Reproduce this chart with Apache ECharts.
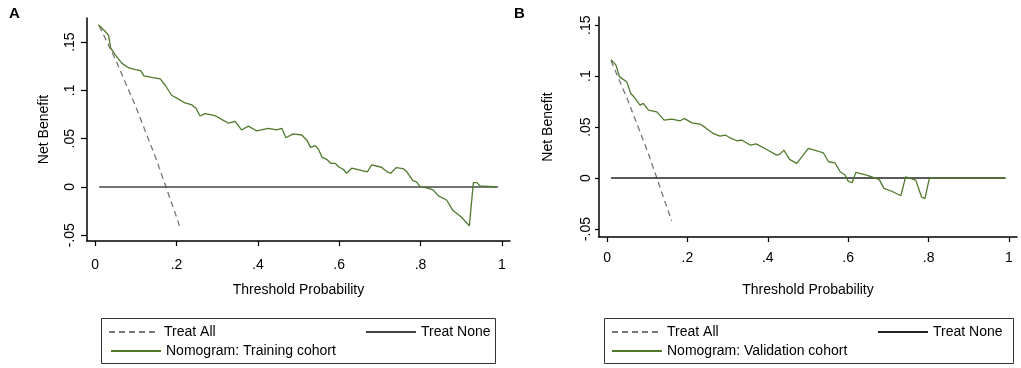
<!DOCTYPE html>
<html>
<head>
<meta charset="utf-8">
<script src="https://cdn.jsdelivr.net/npm/echarts@6/dist/echarts.min.js"></script>
<style>
  html, body { margin: 0; padding: 0; background: #fff; }
  #chart { width: 1021px; height: 368px; }
</style>
</head>
<body>
<div id="chart"></div>
<script>
// tick values and labels (Stata style)
var xTicks = [0, 0.2, 0.4, 0.6, 0.8, 1];
var xTickLabels = ['0', '.2', '.4', '.6', '.8', '1'];
var yTicks = [-0.05, 0, 0.05, 0.1, 0.15];
var yTickLabels = ['-.05', '0', '.05', '.1', '.15'];

// panel A - training cohort
var allAX = [0.01, 0.05, 0.1, 0.15, 0.2, 0.21];
var allAY = [0.167, 0.132, 0.083, 0.029, -0.031, -0.044];
var noneAX = [0.01, 0.99];
var noneAY = [0, 0];
var trainX = [0.008, 0.025, 0.033, 0.038, 0.049, 0.066, 0.082, 0.094, 0.106, 0.112, 0.120, 0.139, 0.160, 0.172, 0.188, 0.205,
  0.221, 0.238, 0.248, 0.258, 0.270, 0.295, 0.311, 0.328, 0.344, 0.360, 0.377, 0.397, 0.426, 0.446, 0.459, 0.469,
  0.487, 0.508, 0.520, 0.530, 0.541, 0.549, 0.558, 0.569, 0.579, 0.590, 0.600, 0.610, 0.618, 0.631, 0.669, 0.680,
  0.704, 0.717, 0.727, 0.740, 0.757, 0.766, 0.781, 0.790, 0.799, 0.815, 0.831, 0.844, 0.864, 0.880, 0.901, 0.920,
  0.930, 0.939, 0.946, 0.988];
var trainY = [0.168, 0.161, 0.157, 0.144, 0.137, 0.128, 0.1235, 0.122, 0.121, 0.1205, 0.115, 0.1135, 0.112, 0.1056, 0.095, 0.091,
  0.087, 0.085, 0.0814, 0.0735, 0.076, 0.0738, 0.070, 0.066, 0.068, 0.059, 0.063, 0.058, 0.0607, 0.059, 0.0607, 0.051,
  0.0549, 0.0538, 0.0487, 0.041, 0.0428, 0.039, 0.0307, 0.0286, 0.0245, 0.0245, 0.0204, 0.0183, 0.0142, 0.0194, 0.0155, 0.0228,
  0.0204, 0.0159, 0.0142, 0.020, 0.019, 0.0159, 0.0066, 0.0052, 0.0003, -0.001, -0.003, -0.0093, -0.0135, -0.0245, -0.0314, -0.0404,
  0.0045, 0.0045, 0.001, 0];

// panel B - validation cohort
var allBX = [0.01, 0.05, 0.1, 0.124, 0.15, 0.161];
var allBY = [0.115, 0.078, 0.027, 0, -0.03, -0.042];
var noneBX = [0.01, 0.99];
var noneBY = [0, 0];
var validX = [0.010, 0.022, 0.031, 0.049, 0.059, 0.067, 0.082, 0.090, 0.103, 0.124, 0.128, 0.142, 0.161, 0.182, 0.192, 0.211,
  0.231, 0.244, 0.264, 0.281, 0.294, 0.306, 0.323, 0.335, 0.356, 0.371, 0.397, 0.422, 0.430, 0.440, 0.454, 0.472,
  0.501, 0.522, 0.538, 0.551, 0.567, 0.580, 0.592, 0.600, 0.610, 0.619, 0.646, 0.662, 0.677, 0.689, 0.711, 0.731,
  0.743, 0.754, 0.768, 0.783, 0.791, 0.802, 0.993];
var validY = [0.116, 0.111, 0.0993, 0.0944, 0.083, 0.0797, 0.0716, 0.0732, 0.0667, 0.065, 0.066, 0.0569, 0.0578, 0.0562, 0.0585, 0.0542,
  0.053, 0.0497, 0.0438, 0.0412, 0.0422, 0.0395, 0.0366, 0.0373, 0.0324, 0.0335, 0.028, 0.0225, 0.0235, 0.0274, 0.0183, 0.0144,
  0.0291, 0.0268, 0.0248, 0.016, 0.015, 0.0062, 0.003, -0.003, -0.0046, 0.0056, 0.003, 0.0007, -0.0013, -0.0101, -0.0134, -0.0173,
  0.0013, -0.0003, -0.002, -0.019, -0.020, 0, 0];

function zip(xs, ys) {
  return xs.map(function (x, i) { return [x, ys[i]]; });
}
function tickLabel(vals, labels) {
  return function (v) {
    for (var i = 0; i < vals.length; i++) {
      if (Math.abs(vals[i] - v) < 1e-9) return labels[i];
    }
    return '';
  };
}

var FONT = 'Liberation Sans, Arial, sans-serif';
var GREEN = '#4f7a2c';

function xAxisFor(idx, nameGap, margin) {
  return {
    type: 'value', gridIndex: idx, min: -0.02, max: 1.02,
    name: 'Threshold Probability', nameLocation: 'middle', nameGap: nameGap, nameMoveOverlap: false,
    nameTextStyle: { fontSize: 14, color: '#000', fontFamily: FONT },
    splitLine: { show: false },
    axisLine: { onZero: false, lineStyle: { color: '#000', width: 1.5 } },
    axisTick: { customValues: xTicks, length: 5, lineStyle: { color: '#000', width: 1.2 } },
    axisLabel: { customValues: xTicks, formatter: tickLabel(xTicks, xTickLabels), margin: margin,
      fontSize: 14, color: '#000', fontFamily: FONT }
  };
}
function yAxisFor(idx, min, max, nameGap, margin, tickLen) {
  return {
    type: 'value', gridIndex: idx, min: min, max: max,
    name: 'Net Benefit', nameLocation: 'middle', nameGap: nameGap, nameRotate: 90, nameMoveOverlap: false,
    nameTextStyle: { fontSize: 14, color: '#000', fontFamily: FONT },
    splitLine: { show: false },
    axisLine: { show: true, onZero: false, lineStyle: { color: '#000', width: 1.5 } },
    axisTick: { show: true, customValues: yTicks, length: tickLen, lineStyle: { color: '#000', width: 1.2 } },
    axisLabel: { customValues: yTicks, formatter: tickLabel(yTicks, yTickLabels), rotate: 90, margin: margin,
      fontSize: 14, color: '#000', fontFamily: FONT }
  };
}
function lineSeries(name, idx, data, color, width, type) {
  return {
    name: name, type: 'line', xAxisIndex: idx, yAxisIndex: idx,
    data: data, symbol: 'none', showSymbol: false, animation: false,
    lineStyle: { color: color, width: width, type: type },
    itemStyle: { color: color }
  };
}
function legendFor(names, left, top) {
  return {
    show: true, data: names, left: left, top: top, padding: 0, itemWidth: 50, itemHeight: 12,
    selectedMode: false,
    itemStyle: { opacity: 0 },
    textStyle: { fontSize: 14, color: '#000', fontFamily: FONT }
  };
}

var chart = echarts.init(document.getElementById('chart'));
chart.setOption({
  animation: false,
  backgroundColor: '#fff',
  title: [
    { text: 'A', left: 9, top: 6, padding: 0, textStyle: { fontSize: 15, fontWeight: 'bold', color: '#000', fontFamily: FONT } },
    { text: 'B', left: 514, top: 6, padding: 0, textStyle: { fontSize: 15, fontWeight: 'bold', color: '#000', fontFamily: FONT } }
  ],
  grid: [
    { left: 87, top: 18, width: 423, height: 223 },
    { left: 599, top: 17, width: 418, height: 220 }
  ],
  xAxis: [xAxisFor(0, 42, 17), xAxisFor(1, 46, 14)],
  yAxis: [yAxisFor(0, -0.056, 0.175, 36, 10, 6), yAxisFor(1, -0.0578, 0.158, 44, 6, 4)],
  legend: [
    legendFor(['Treat All'], 108, 325),
    legendFor(['Treat None'], 365, 325),
    legendFor(['Nomogram: Training cohort'], 110, 344),
    legendFor(['Treat All '], 611, 325),
    legendFor(['Treat None '], 877, 325),
    legendFor(['Nomogram: Validation cohort'], 611, 344)
  ],
  graphic: [
    { type: 'rect', silent: true, shape: { x: 101.5, y: 318.5, width: 394, height: 45 }, style: { fill: 'none', stroke: '#333', lineWidth: 1 } },
    { type: 'rect', silent: true, shape: { x: 604.5, y: 318.5, width: 409, height: 45 }, style: { fill: 'none', stroke: '#333', lineWidth: 1 } }
  ],
  series: [
    lineSeries('Treat All', 0, zip(allAX, allAY), '#777', 1.3, [6, 4]),
    lineSeries('Treat None', 0, zip(noneAX, noneAY), '#444', 1.5, 'solid'),
    lineSeries('Nomogram: Training cohort', 0, zip(trainX, trainY), GREEN, 1.3, 'solid'),
    lineSeries('Treat All ', 1, zip(allBX, allBY), '#777', 1.3, [6, 4]),
    lineSeries('Treat None ', 1, zip(noneBX, noneBY), '#222', 1.5, 'solid'),
    lineSeries('Nomogram: Validation cohort', 1, zip(validX, validY), GREEN, 1.3, 'solid')
  ]
});
</script>
</body>
</html>
